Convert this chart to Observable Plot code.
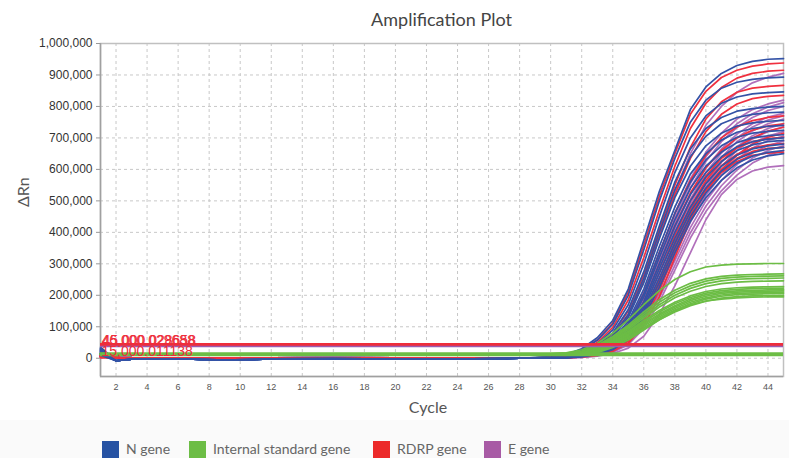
<!DOCTYPE html>
<html><head><meta charset="utf-8">
<script src="https://cdn.jsdelivr.net/npm/d3@7"></script>
<script src="https://cdn.jsdelivr.net/npm/@observablehq/plot@0.6"></script>
<style>
body{margin:0;background:#fff;}
#wrap{width:789px;height:458px;position:relative;overflow:hidden;background:#fff;}
#title{height:33px;box-sizing:border-box;padding:9px 6px 0 100px;text-align:center;font:18px Lato,sans-serif;color:#444;line-height:20px;}
#chart{height:387px;}
#legend{position:absolute;left:0;top:420px;width:789px;height:38px;background:#fafafa;font:14px Lato,sans-serif;color:#666;}
.sw{position:absolute;top:21px;width:17px;height:17px;}
.lb{position:absolute;top:20px;line-height:18px;white-space:nowrap;}
</style></head>
<body>
<div id="wrap">
  <div id="title">Amplification Plot</div>
  <div id="chart"></div>
  <div id="legend"></div>
</div>
<script>
// ---- axes ----
const X_TICKS = [2,4,6,8,10,12,14,16,18,20,22,24,26,28,30,32,34,36,38,40,42,44];
const Y_TICKS = [0,100000,200000,300000,400000,500000,600000,700000,800000,900000,1000000];

// ---- cycles at which values were read ----
const BASE_CYCLES = [1,2,3,5,7,9,12,16,20,22,25,28];
const RISE_CYCLES = [29,30,31,32,33,34,35,36,37,38,39,40,41,42,43,44,45];

// ---- values in thousands of ΔRn ----
// N gene (blue)
const N_START = [35,30,28,24,22,20,18,30,26,15,12,25,20,16,10];
const N_BASE  = [-8,-3,-2,-3,-6,-2,-1,-3,-2,-2,0];
const N_RISE = [
 [2,5,12,30,65,120,220,375,530,660,790,862,905,930,943,950,952],
 [2,4,10,26,57,108,200,345,500,635,750,820,858,877,886,891,893],
 [1,3,8,20,45,90,170,300,450,590,700,770,810,830,840,844,846],
 [1,3,7,18,40,80,155,275,420,560,665,730,765,785,793,798,800],
 [0,2,6,15,35,72,140,255,400,535,640,705,745,765,775,780,782],
 [0,2,5,13,30,65,130,240,380,510,610,675,715,738,748,753,756],
 [0,1,4,11,26,58,118,220,355,480,585,650,693,718,730,737,740],
 [0,1,4,10,24,52,108,205,335,460,560,630,675,702,715,721,724],
 [0,1,3,9,22,48,100,195,320,440,540,610,655,685,700,707,710],
 [0,1,3,8,20,44,92,180,300,420,520,590,640,672,688,696,700],
 [0,1,3,8,18,40,85,170,285,400,500,575,625,660,678,688,692],
 [0,0,2,7,16,36,78,160,270,380,480,555,610,645,665,675,680],
 [0,0,2,6,15,33,72,150,255,365,465,540,595,632,653,665,670],
 [0,0,2,5,13,30,66,140,240,350,450,525,580,620,642,654,660],
 [0,0,1,5,12,27,60,130,225,335,435,510,565,605,630,643,650]
];
// RDRP gene (red)
const R_START = [10,8,6,5,4,8,3,6,2,5,4,3];
const R_BASE  = [2,0,0,1,0,1,0,0,1,0,0];
const R_RISE = [
 [1,4,10,26,58,112,210,360,515,650,775,848,892,915,928,935,938],
 [1,3,8,22,50,98,185,320,470,610,730,810,860,890,905,912,915],
 [0,2,6,16,38,78,150,265,410,550,670,760,815,845,858,864,867],
 [0,2,5,14,32,68,135,245,385,520,635,720,775,808,825,832,835],
 [0,1,4,10,24,52,108,205,335,460,565,645,700,735,755,765,770],
 [0,1,3,8,20,44,92,180,300,420,525,605,660,700,725,738,745],
 [0,0,2,6,15,34,72,145,250,370,480,565,625,670,700,722,734],
 [0,0,2,5,12,28,62,130,230,345,455,540,600,645,680,702,715],
 [0,1,3,8,18,38,80,160,270,390,500,580,635,668,688,698,702],
 [0,1,2,6,14,30,65,135,240,360,470,555,612,648,668,678,682],
 [0,0,2,5,11,25,55,118,215,335,450,535,595,635,657,667,670],
 [0,0,1,4,9,22,48,105,195,320,440,530,590,625,645,652,655]
];
// E gene (purple)
const E_START = [15,12,10,8,14,6,9,11,5,7,4,10,6,8,3];
const E_BASE  = [4,2,1,1,0,1,2,1,0,0,0];
const E_RISE = [
 [0,2,5,14,32,68,135,250,390,530,650,740,800,845,875,893,905],
 [0,1,4,11,26,55,112,210,335,460,570,655,715,760,790,808,820],
 [0,1,4,10,24,52,106,200,322,445,555,640,700,745,777,798,812],
 [0,1,3,9,22,48,100,190,310,430,540,625,688,733,765,787,800],
 [0,1,3,8,20,44,92,178,295,412,520,605,665,712,745,766,778],
 [0,1,3,8,19,42,88,172,285,400,505,590,652,700,735,757,770],
 [0,1,3,7,17,38,82,162,272,385,490,575,638,688,722,745,760],
 [0,0,2,6,15,34,75,150,255,368,472,558,622,672,707,730,745],
 [0,0,2,6,14,32,70,142,245,355,460,545,610,660,697,720,735],
 [0,0,2,5,13,29,64,132,232,340,445,530,595,645,682,706,720],
 [0,0,2,5,12,27,60,125,220,328,432,518,582,632,668,692,705],
 [0,0,1,4,10,24,54,115,205,310,415,500,565,615,652,676,690],
 [0,0,1,4,9,21,48,105,192,295,398,483,548,598,636,660,675],
 [0,0,1,3,8,19,43,95,178,280,382,466,532,582,620,645,660],
 [0,0,1,3,7,15,32,70,140,230,335,440,520,568,595,607,612]
];
// Internal standard gene (green) – baseline sits on its threshold line
const G_START = [14,13,15,14,13,15,12,14,13,14,13,12,13];
const G_BASE  = [13,13,13,13,13,13,13,13,13,13,13];
const G_RISE = [
 [13,14,17,27,47,80,122,170,215,250,275,290,296,299,300,301,301],
 [13,14,16,23,41,69,105,147,186,216,238,252,260,264,266,267,268],
 [13,13,15,21,38,65,100,140,178,208,230,245,254,258,260,261,262],
 [13,13,15,20,36,62,96,134,170,200,222,237,246,251,253,254,255],
 [13,13,14,19,33,58,91,128,163,192,213,228,237,242,244,245,246],
 [13,13,14,18,31,55,86,120,152,178,198,212,220,224,226,227,228],
 [13,13,14,17,29,52,82,115,147,173,193,207,215,219,221,222,223],
 [13,13,14,17,27,49,78,110,141,167,188,202,210,214,216,217,218],
 [13,13,14,16,26,47,75,106,137,163,183,197,206,210,212,213,214],
 [13,13,14,16,24,44,71,102,132,158,178,192,201,206,208,209,210],
 [13,13,13,15,22,41,67,97,127,153,173,188,197,202,204,205,206],
 [13,13,13,15,20,38,63,93,122,147,167,181,191,196,198,199,200],
 [13,13,13,14,18,34,58,90,122,150,170,182,188,192,194,195,195]
];

// thresholds
const THRESH_VALUES = [42000, 37000, 13000];
const THRESH_COLORS = ["#ee2d3b", "#9a5cb0", "#6cbd45"];
const THRESH_WIDTHS = [4, 1.5, 4];
const THRESH_LABELS = ["46,000.029688", "45,000.028658", "15,000.011138"];

// legend
const LEGEND_NAMES = ["N gene", "Internal standard gene", "RDRP gene", "E gene"];
const LEGEND_COLORS = ["#2652a3", "#6cbd45", "#ec2a2a", "#a85ba5"];
const LINE_COLORS = {N: "#3352a6", G: "#6cbd45", R: "#f0303f", E: "#a95fb4"};

function curves(key, start, base, rise) {
  const out = [];
  rise.forEach((r, i) => {
    const pts = [];
    pts.push({cycle: BASE_CYCLES[0], v: start[i] * 1000});
    base.forEach((b, j) => pts.push({cycle: BASE_CYCLES[j + 1], v: b * 1000}));
    r.forEach((v, j) => pts.push({cycle: RISE_CYCLES[j], v: v * 1000}));
    out.push(pts.map(p => ({...p, id: key + i, color: LINE_COLORS[key]})));
  });
  return out;
}
const nC = curves("N", N_START, N_BASE, N_RISE);
const rC = curves("R", R_START, R_BASE, R_RISE);
const eC = curves("E", E_START, E_BASE, E_RISE);
const gC = curves("G", G_START, G_BASE, G_RISE);
// interleave N and R so they overlap as in the instrument plot
const nr = [];
for (let i = 0; i < Math.max(nC.length, rC.length); i++) {
  if (rC[i]) nr.push(...rC[i]);
  if (nC[i]) nr.push(...nC[i]);
}
const eData = eC.flat();
const gData = gC.flat();

const thresh = THRESH_VALUES.map((v, i) => ({v, color: THRESH_COLORS[i], w: THRESH_WIDTHS[i]}));

const plot = Plot.plot({
  width: 789,
  height: 387,
  marginTop: 10,
  marginBottom: 44,
  marginLeft: 100,
  marginRight: 6,
  style: {fontFamily: "'Liberation Sans', Arial, sans-serif", background: "transparent", overflow: "visible"},
  x: {domain: [1, 45]},
  y: {domain: [-58000, 1000000]},
  color: {type: "identity"},
  marks: [
    Plot.gridX(X_TICKS, {stroke: "#c8c8c8", strokeOpacity: 1, strokeDasharray: "3,3"}),
    Plot.gridY(Y_TICKS, {stroke: "#c8c8c8", strokeOpacity: 1, strokeDasharray: "3,3"}),
    Plot.frame({stroke: "#c0c0c0", strokeWidth: 1.5}),
    Plot.ruleX([1], {stroke: "#a0a0a0", strokeWidth: 1.5}),
    Plot.ruleY([-58000], {stroke: "#a0a0a0", strokeWidth: 1.5}),
    Plot.line(eData, {x: "cycle", y: "v", z: "id", stroke: "color", strokeWidth: 1.7, strokeOpacity: 0.9}),
    Plot.line(nr, {x: "cycle", y: "v", z: "id", stroke: "color", strokeWidth: 1.7}),
    Plot.line(gData, {x: "cycle", y: "v", z: "id", stroke: "color", strokeWidth: 1.7}),
    Plot.ruleY(thresh, {y: "v", stroke: "color", strokeWidth: "w"}),
    Plot.text([THRESH_LABELS[0]], {x: 1, y: THRESH_VALUES[0], text: d => d, textAnchor: "start", lineAnchor: "bottom", dx: 1, dy: 0, fill: "#ee2d3b", fontSize: 14}),
    Plot.text([THRESH_LABELS[1]], {x: 1, y: THRESH_VALUES[0], text: d => d, textAnchor: "start", lineAnchor: "bottom", dx: 2, dy: 0, fill: "#ee2d3b", fontSize: 14}),
    Plot.text([THRESH_LABELS[2]], {x: 1, y: THRESH_VALUES[2], text: d => d, textAnchor: "start", lineAnchor: "bottom", dx: 1, dy: 2, fill: "#ee2d3b", fontSize: 14}),
    Plot.axisY({ticks: Y_TICKS, tickFormat: d3.format(","), tickSize: 4, tickPadding: 4, fontSize: 12, stroke: "#999", fill: "#333", label: null}),
    Plot.axisX({ticks: X_TICKS, tickSize: 0, tickPadding: 7, fontSize: 9, fill: "#555", label: null}),
    Plot.text(["Cycle"], {frameAnchor: "bottom", text: d => d, dx: -14, dy: 31, lineAnchor: "middle", fontSize: 16, fontFamily: "Lato, sans-serif", fill: "#555"}),
    Plot.text(["ΔRn"], {frameAnchor: "left", text: d => d, dx: -77, dy: -3, rotate: -90, lineAnchor: "middle", fontSize: 16, fontFamily: "Lato, sans-serif", fill: "#555"})
  ]
});
document.getElementById("chart").appendChild(plot);

// legend
const SW_X = [102, 189, 373, 484];
const LB_X = [126, 213, 397, 508];
const leg = document.getElementById("legend");
LEGEND_NAMES.forEach((n, i) => {
  const s = document.createElement("div");
  s.className = "sw"; s.style.left = SW_X[i] + "px"; s.style.background = LEGEND_COLORS[i];
  const t = document.createElement("div");
  t.className = "lb"; t.style.left = LB_X[i] + "px"; t.textContent = n;
  leg.appendChild(s); leg.appendChild(t);
});
</script>
</body></html>
